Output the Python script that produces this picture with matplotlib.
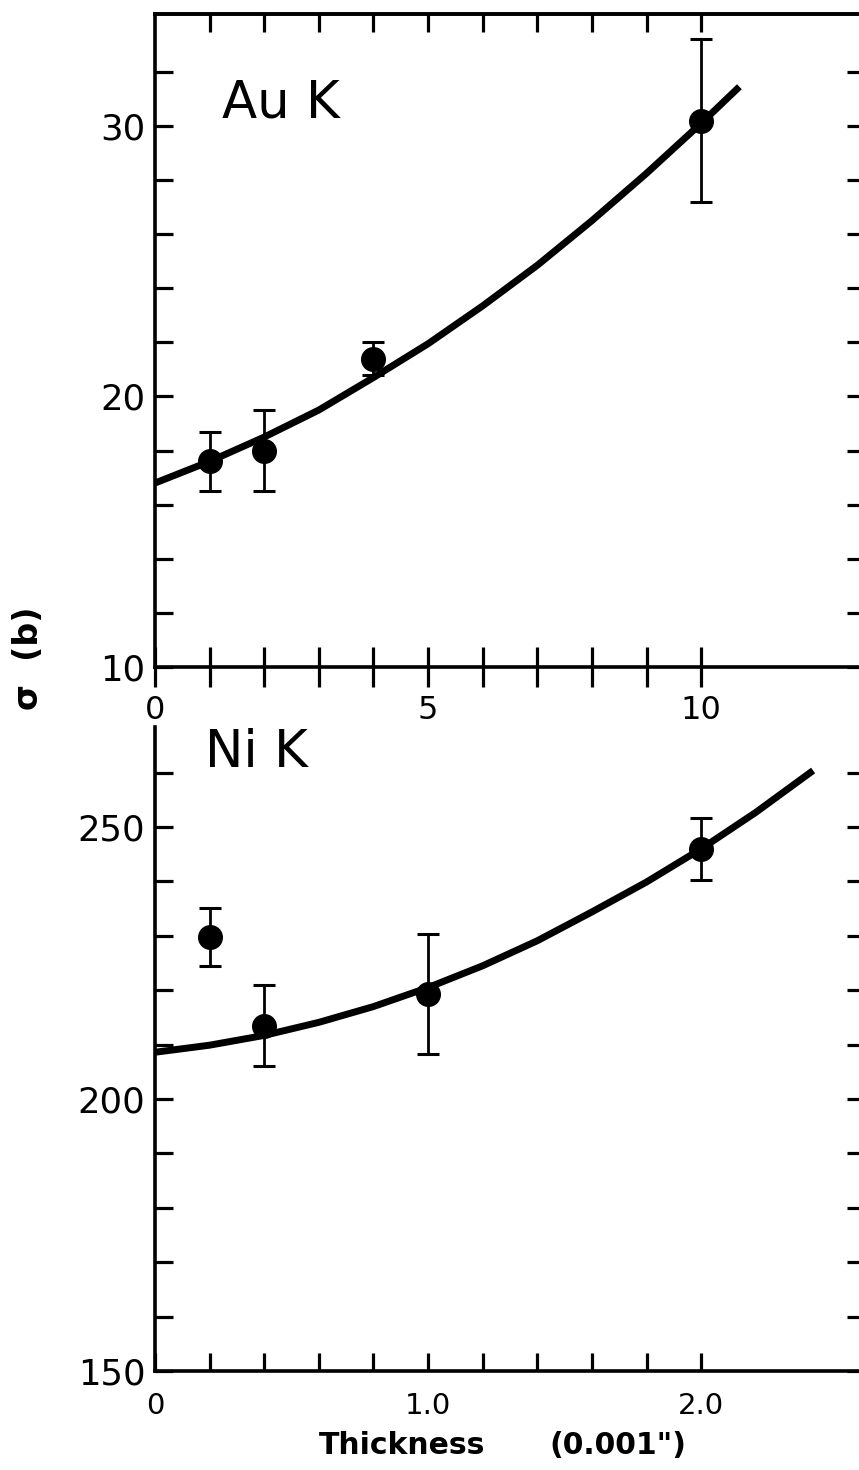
import matplotlib
matplotlib.use("Agg")
import matplotlib.pyplot as plt
from matplotlib.ticker import FixedLocator, NullFormatter

# ---- data ----
au_x = [1, 2, 4, 10]
au_y = [17.6, 18.0, 21.4, 30.2]
au_err = [1.1, 1.5, 0.6, 3.0]
au_curve_x = [0, 1, 2, 3, 4, 5, 6, 7, 8, 9, 10, 10.7]
au_curve_y = [16.8, 17.6, 18.5, 19.5, 20.7, 21.95, 23.35, 24.85, 26.5, 28.25, 30.1, 31.45]

ni_x = [0.2, 0.4, 1.0, 2.0]
ni_y = [229.8, 213.5, 219.3, 246.0]
ni_err = [5.4, 7.5, 11.0, 5.7]
ni_curve_x = [0, 0.2, 0.4, 0.6, 0.8, 1.0, 1.2, 1.4, 1.6, 1.8, 2.0, 2.2, 2.41]
ni_curve_y = [208.6, 209.9, 211.7, 214.1, 217.0, 220.5, 224.5, 229.1, 234.4, 239.9, 246.0, 252.7, 260.4]

au_xticks_major = [0, 5, 10]
au_xtick_labels = ["0", "5", "10"]
au_xticks_minor = [1, 2, 3, 4, 6, 7, 8, 9]
au_xticks_top = [1, 2, 3, 4, 5, 6, 7, 8, 9, 10]
au_yticks_major = [10, 20, 30]
au_yticks_minor = [12, 14, 16, 18, 22, 24, 26, 28, 32]

ni_xticks_major = [0, 1.0, 2.0]
ni_xtick_labels = ["0", "1.0", "2.0"]
ni_xticks_minor = [0.2, 0.4, 0.6, 0.8, 1.2, 1.4, 1.6, 1.8]
ni_yticks_major = [150, 200, 250]
ni_yticks_minor = [160, 170, 180, 190, 210, 220, 230, 240, 260]

plt.rcParams['font.family'] = ['DejaVu Sans']

W, H = 859, 1470
fig = plt.figure(figsize=(W / 100, H / 100), dpi=100)

def frac_box(left, top, right, bottom):
    return [left / W, 1 - bottom / H, (right - left) / W, (bottom - top) / H]

LW_SPINE = 2.6
LW_TICK = 2.3
LW_CURVE = 5.0
MS = 17
TICK_IN = 13      # points (~18 px)

# ---------------- top panel (Au K) ----------------
ax1 = fig.add_axes(frac_box(155, 14, 865, 667))
ax1.set_xlim(0, 13)
ax1.set_ylim(10, 34.14)
ax1.plot(au_curve_x, au_curve_y, color='black', lw=LW_CURVE, solid_capstyle='butt')
ax1.errorbar(au_x, au_y, yerr=au_err, fmt='o', color='black', ms=MS,
             elinewidth=2.0, capsize=8, capthick=2.2)
for s in ax1.spines.values():
    s.set_linewidth(LW_SPINE)

ax1.xaxis.set_major_locator(FixedLocator(au_xticks_major))
ax1.xaxis.set_minor_locator(FixedLocator(au_xticks_minor))
ax1.set_xticklabels(au_xtick_labels)
ax1.tick_params(axis='x', which='both', direction='inout', length=29, width=LW_TICK,
                bottom=True, top=False, labelsize=23, pad=5.5)
ax1.yaxis.set_major_locator(FixedLocator(au_yticks_major))
ax1.yaxis.set_minor_locator(FixedLocator(au_yticks_minor))
ax1.tick_params(axis='y', which='both', direction='in', length=TICK_IN, width=LW_TICK,
                left=True, right=True, labelsize=25.5, pad=7)

sec = ax1.secondary_xaxis('top')
sec.xaxis.set_major_locator(FixedLocator(au_xticks_top))
sec.xaxis.set_major_formatter(NullFormatter())
sec.tick_params(direction='in', length=TICK_IN, width=LW_TICK)
sec.spines['top'].set_linewidth(LW_SPINE)

ax1.text(0.094, 0.841, "Au K", transform=ax1.transAxes, fontsize=37,
         ha='left', va='baseline')

# ---------------- bottom panel (Ni K) ----------------
ax2 = fig.add_axes(frac_box(155, 727, 865, 1371))
ax2.set_xlim(0, 2.6)
ax2.set_ylim(150, 268.4)
ax2.plot(ni_curve_x, ni_curve_y, color='black', lw=LW_CURVE, solid_capstyle='butt')
ax2.errorbar(ni_x, ni_y, yerr=ni_err, fmt='o', color='black', ms=MS,
             elinewidth=2.0, capsize=8, capthick=2.2)
for s in ax2.spines.values():
    s.set_linewidth(LW_SPINE)
ax2.spines['top'].set_visible(False)

ax2.xaxis.set_major_locator(FixedLocator(ni_xticks_major))
ax2.xaxis.set_minor_locator(FixedLocator(ni_xticks_minor))
ax2.set_xticklabels(ni_xtick_labels)
ax2.tick_params(axis='x', which='both', direction='in', length=TICK_IN, width=LW_TICK,
                bottom=True, top=False, labelsize=21, pad=15)
ax2.yaxis.set_major_locator(FixedLocator(ni_yticks_major))
ax2.yaxis.set_minor_locator(FixedLocator(ni_yticks_minor))
ax2.tick_params(axis='y', which='both', direction='in', length=TICK_IN, width=LW_TICK,
                left=True, right=True, labelsize=25.5, pad=7)

ax2.text(0.070, 0.938, "Ni K", transform=ax2.transAxes, fontsize=37,
         ha='left', va='baseline')

# axis titles
fig.text(402 / W, 1 - 1445 / H, "Thickness", fontsize=21.5, fontweight='bold',
         ha='center', va='center')
fig.text(618 / W, 1 - 1445 / H, "(0.001\")", fontsize=21.5, fontweight='bold',
         ha='center', va='center')
fig.text(29 / W, 1 - 658 / H, "σ  (b)", fontsize=24, fontweight='bold',
         rotation=90, ha='center', va='center')

fig.savefig("out.png", dpi=100)
